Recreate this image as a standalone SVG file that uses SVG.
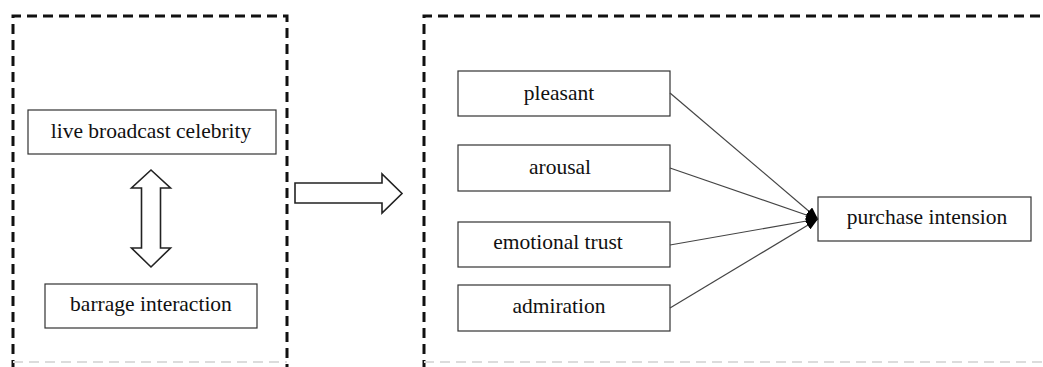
<svg xmlns="http://www.w3.org/2000/svg" width="1043" height="367" viewBox="0 0 1043 367">
  <style>
    .frame { fill: none; stroke: #111; stroke-width: 3; stroke-dasharray: 10 6; }
    .frame-faint { fill: none; stroke: #dcdcdc; stroke-width: 2; stroke-dasharray: 10 6; }
    .box { fill: #fff; stroke: #333; stroke-width: 1.2; }
    .lbl { font-family: "Liberation Serif", "Times New Roman", serif; font-size: 21.5px; fill: #111; text-anchor: middle; }
    .conn { stroke: #444; stroke-width: 1.2; fill: none; marker-end: url(#head); }
    .bigarrow { fill: #fff; stroke: #222; stroke-width: 1.6; stroke-linejoin: miter; }
  </style>
  <defs>
    <marker id="head" viewBox="0 0 12 10" refX="12" refY="5" markerWidth="12" markerHeight="10" markerUnits="userSpaceOnUse" orient="auto">
      <path d="M0,0 L12,5 L0,10 z" fill="#000"/>
    </marker>
  </defs>

  <rect width="1043" height="367" fill="#fff"/>

  <g id="frames">
    <path class="frame" d="M13,370 L13,16 L287,16 L287,370"/>
    <path class="frame" d="M424,370 L424,16 L1050,16"/>
    <path class="frame-faint" d="M13,362 L287,362"/>
    <path class="frame-faint" d="M424,362 L1043,362"/>
  </g>

  <g id="node-live-broadcast-celebrity">
    <rect class="box" x="28" y="110" width="248" height="44"/>
    <text class="lbl" x="151" y="138">live broadcast celebrity</text>
  </g>

  <g id="node-barrage-interaction">
    <rect class="box" x="45" y="284" width="212" height="44"/>
    <text class="lbl" x="151" y="311">barrage interaction</text>
  </g>

  <g id="node-pleasant">
    <rect class="box" x="458" y="71" width="212" height="45"/>
    <text class="lbl" x="559" y="100">pleasant</text>
  </g>
  <g id="node-arousal">
    <rect class="box" x="458" y="145" width="212" height="46"/>
    <text class="lbl" x="560" y="174">arousal</text>
  </g>
  <g id="node-emotional-trust">
    <rect class="box" x="458" y="222" width="212" height="45"/>
    <text class="lbl" x="558" y="249">emotional trust</text>
  </g>
  <g id="node-admiration">
    <rect class="box" x="458" y="285" width="212" height="46"/>
    <text class="lbl" x="559" y="313">admiration</text>
  </g>
  <g id="node-purchase-intension">
    <rect class="box" x="818" y="197" width="213" height="44"/>
    <text class="lbl" x="927" y="224">purchase intension</text>
  </g>

  <g id="connectors">
    <polygon class="bigarrow" points="151,170 170.5,188 160.5,188 160.5,248 170.5,248 151,267 131.5,248 141.5,248 141.5,188 131.5,188"/>
    <polygon class="bigarrow" points="295,183 382,183 382,174 402,193.5 382,213 382,203 295,203"/>
    <line class="conn" x1="670" y1="93" x2="818" y2="219"/>
    <line class="conn" x1="670" y1="168" x2="818" y2="219"/>
    <line class="conn" x1="670" y1="245" x2="818" y2="219"/>
    <line class="conn" x1="670" y1="308" x2="818" y2="219"/>
  </g>
</svg>
